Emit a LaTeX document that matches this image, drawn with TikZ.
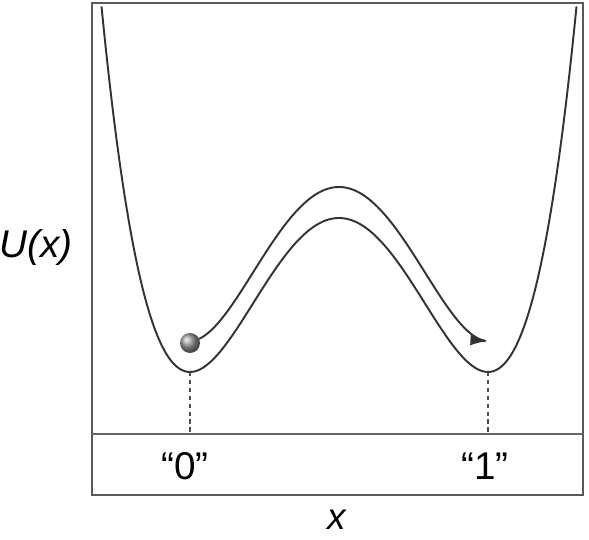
\documentclass[tikz,border=0pt]{standalone}
\usepackage{fontspec}
\setmainfont{Liberation Sans}
\usetikzlibrary{arrows.meta}

\begin{document}
\begin{tikzpicture}[x=0.02cm,y=-0.02cm]
        \useasboundingbox (0,0) rectangle (589,540);
        \draw[black!65, line width=1.2pt] (92,3) rectangle (583,495);
        \draw[black!60, line width=1pt] (92,434) -- (583,434);
        \coordinate (min0) at (190,372);
        \coordinate (min1) at (488,372);
        \draw[black!80, line width=1.1pt, domain=101.5:576.5, samples=160, smooth]
            plot (\x, {372-154*(1-((\x-339)/149)*((\x-339)/149))*(1-((\x-339)/149)*((\x-339)/149))});
        \draw[black!80, line width=1.1pt, domain=199:488, samples=100, smooth, -{Latex[length=10pt,width=6pt]}]
            plot (\x, {341-154*(1-((\x-339)/149)*((\x-339)/149))*(1-((\x-339)/149)*((\x-339)/149))});
        \node[circle, shade, ball color=black!40, minimum size=0.4cm, inner sep=0pt] (ball) at (190,343) {};
        \draw[black!70, dashed, dash pattern=on 2.5pt off 2pt, line width=0.8pt] (min0) -- (min0 |- 0,434);
        \draw[black!70, dashed, dash pattern=on 2.5pt off 2pt, line width=0.8pt] (min1) -- (min1 |- 0,434);
        \node (zero) at (185,466) {\fontsize{22}{24}\selectfont “0”};
        \node (one) at (485,466) {\fontsize{22}{24}\selectfont “1”};
        \node (ulabel) at (36,248) {\fontsize{22}{24}\selectfont\itshape U(x)};
        \node[anchor=base, inner sep=0pt] (xlabel) at (337,530) {\fontsize{21}{24}\selectfont\itshape x};
    \end{tikzpicture}
\end{document}
